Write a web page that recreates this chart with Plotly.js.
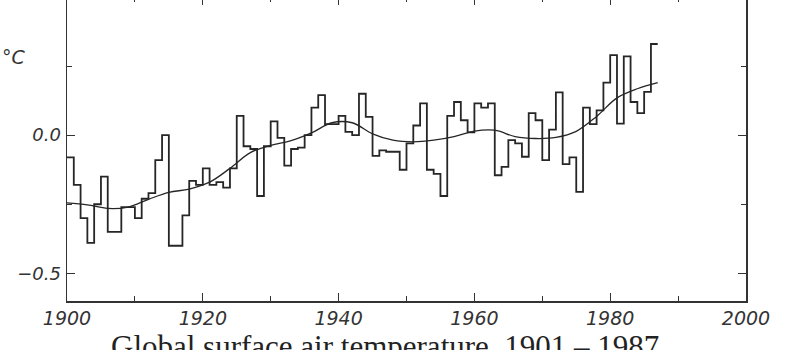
<!DOCTYPE html>
<html><head><meta charset="utf-8">
<script src="https://cdn.plot.ly/plotly-3.0.1.min.js"></script>
<style>
html,body{margin:0;padding:0;background:#fff;overflow:hidden;width:800px;height:350px}
#chart{position:absolute;left:0;top:-10px;width:800px;height:365px}
</style>
</head><body><div id="chart"></div>
<script>
const years=[1901,1902,1903,1904,1905,1906,1907,1908,1909,1910,
1911,1912,1913,1914,1915,1916,1917,1918,1919,1920,
1921,1922,1923,1924,1925,1926,1927,1928,1929,1930,
1931,1932,1933,1934,1935,1936,1937,1938,1939,1940,
1941,1942,1943,1944,1945,1946,1947,1948,1949,1950,
1951,1952,1953,1954,1955,1956,1957,1958,1959,1960,
1961,1962,1963,1964,1965,1966,1967,1968,1969,1970,
1971,1972,1973,1974,1975,1976,1977,1978,1979,1980,
1981,1982,1983,1984,1985,1986,1987];
const anomaly=[-0.08,-0.18,-0.30,-0.39,-0.25,-0.15,-0.35,-0.35,-0.26,-0.26,
-0.30,-0.23,-0.21,-0.09,0.00,-0.40,-0.40,-0.29,-0.165,-0.18,
-0.12,-0.18,-0.17,-0.19,-0.12,0.07,-0.04,-0.05,-0.22,-0.04,
0.05,-0.01,-0.11,-0.05,-0.045,0.00,0.10,0.145,0.04,0.04,
0.07,0.012,0.00,0.15,0.066,-0.075,-0.055,-0.06,-0.06,-0.125,
-0.03,0.035,0.115,-0.125,-0.14,-0.22,0.07,0.12,0.054,0.01,
0.115,0.10,0.115,-0.145,-0.115,-0.018,-0.03,-0.078,0.08,0.054,
-0.09,0.02,0.155,-0.105,-0.08,-0.205,0.10,0.04,0.09,0.19,
0.29,0.042,0.285,0.12,0.08,0.157,0.33];
const smoothYears=[1900,1903,1906,1909,1912,1915,1918,1921,1924,1927,1930,1933,1936,1939,1942,1945,1948,1951,1954,1957,1960,1963,1966,1969,1972,1975,1978,1981,1984,1987];
const smoothValues=[-0.245,-0.252,-0.265,-0.26,-0.232,-0.207,-0.195,-0.17,-0.12,-0.063,-0.037,-0.02,0.008,0.045,0.045,0.005,-0.018,-0.024,-0.018,-0.005,0.015,0.018,-0.005,-0.012,-0.008,0.014,0.068,0.135,0.168,0.19];
const xTickVals=[1900,1920,1940,1960,1980,2000];
const xMinorVals=[1910,1930,1950,1970,1990];
const yTickVals=[-0.5,0,0.5];
const yTickText=['\u22120.5','0.0','0.5'];
const yMinorVals=[-0.25,0.25];
const titleText='Global surface air temperature, 1901 \u2013 1987';
const unitLabel='\u00B0C';

// each annual value is drawn as a step over [year-1, year]
const stepX=years.map(y=>y-1).concat([years[years.length-1]]);
const stepY=anomaly.concat([anomaly[anomaly.length-1]]);

const ink='#262626';

const traces=[
 {x:stepX,y:stepY,type:'scatter',mode:'lines',line:{shape:'hv',color:ink,width:1.8},hoverinfo:'skip'},
 {x:smoothYears,y:smoothValues,type:'scatter',mode:'lines',line:{shape:'spline',smoothing:1,color:ink,width:1.3},hoverinfo:'skip'}
];

const layout={
 width:800,height:365,
 margin:{l:67,r:54,t:7,b:54},
 paper_bgcolor:'#fff',plot_bgcolor:'#fff',
 showlegend:false,
 xaxis:{range:[1900,2000],tickmode:'array',tickvals:xTickVals,ticktext:xTickVals.map(String),
  ticks:'inside',ticklen:8,tickwidth:1.2,tickcolor:'#333',
  showline:true,linewidth:1.5,linecolor:'#333',mirror:'ticks',
  showgrid:false,zeroline:false,tickfont:{family:'DejaVu Sans',size:19,color:'#333',style:'italic'},ticklabelstandoff:0,
  minor:{tickmode:'array',tickvals:xMinorVals,ticks:'inside',ticklen:5,tickwidth:1,tickcolor:'#333',showgrid:false}},
 yaxis:{range:[-0.6,0.5],tickmode:'array',tickvals:yTickVals,ticktext:yTickText,
  ticks:'inside',ticklen:8,tickwidth:1.2,tickcolor:'#333',
  showline:true,linewidth:1.5,linecolor:'#333',mirror:'ticks',
  showgrid:false,zeroline:false,tickfont:{family:'DejaVu Sans',size:18,color:'#333',style:'italic'},ticklabelstandoff:1,
  minor:{tickmode:'array',tickvals:yMinorVals,ticks:'inside',ticklen:5,tickwidth:1,tickcolor:'#333',showgrid:false}},
 annotations:[
  {text:unitLabel,xref:'paper',yref:'paper',x:-0.078,y:0.803,xanchor:'center',yanchor:'middle',showarrow:false,
   font:{family:'DejaVu Sans',size:19,color:'#333',style:'italic'}},
  {text:titleText,xref:'paper',yref:'paper',x:0.468,y:-0.085,xanchor:'center',yanchor:'top',showarrow:false,
   font:{family:'Liberation Serif',size:31,color:'#222'}}
 ]
};
Plotly.newPlot('chart',traces,layout,{staticPlot:true,displayModeBar:false});
</script></body></html>
